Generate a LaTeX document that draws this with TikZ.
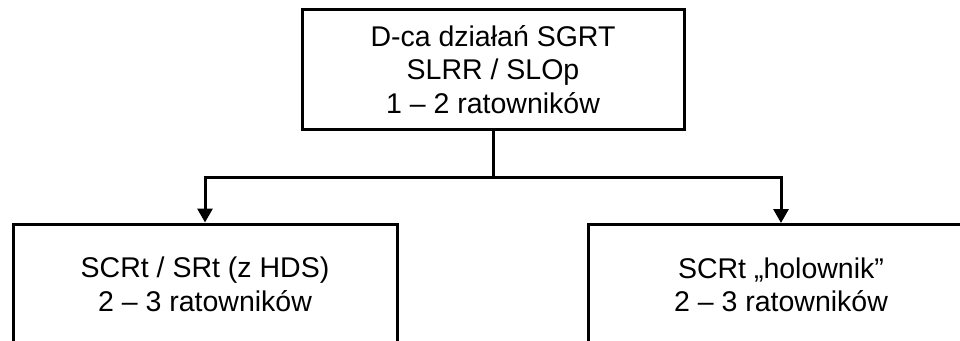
\documentclass[tikz,border=0pt]{standalone}
\usepackage{fontspec}
\setmainfont{Liberation Sans}
\usetikzlibrary{arrows.meta}
\begin{document}
\begin{tikzpicture}[x=1pt,y=-1pt,
  box/.style={draw=black,line width=3pt,fill=white,align=center,inner sep=0pt,
    font=\fontsize{28.5}{33.5}\selectfont},
  conn/.style={draw=black,line width=3pt,line join=miter},
  arr/.style={conn,-{Triangle[length=14pt,width=15pt]}}]
\useasboundingbox (0,0) rectangle (960,340);
\clip (0,0) rectangle (960,340);
\fill[white] (0,0) rectangle (960,340);
\node[box,minimum width=382pt,minimum height=119.5pt] (top) at (493,69.5)
  {D-ca działań SGRT\\SLRR / SLOp\\1 – 2 ratowników};
\node[box,minimum width=384pt,minimum height=121pt] (left) at (205,284.5)
  {SCRt / SRt (z HDS)\\2 – 3 ratowników};
\node[box,minimum width=386pt,minimum height=121pt] (right) at (781,285)
  {SCRt „holownik”\\2 – 3 ratowników};
\coordinate (j) at (top.south |- 0,177);
\draw[conn] (top.south) -- (j);
\draw[arr] (j) -| (left.north);
\draw[arr] (j) -| (right.north);
\end{tikzpicture}
\end{document}
